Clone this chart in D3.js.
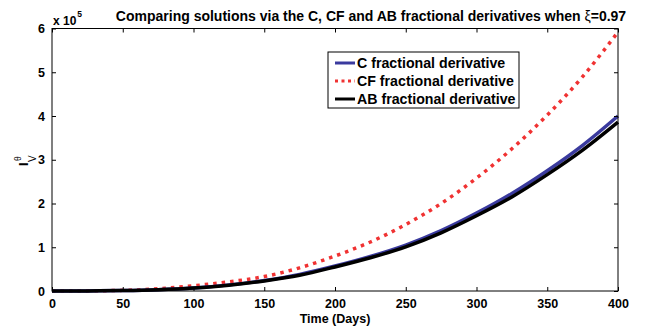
<!DOCTYPE html>
<html>
<head>
<meta charset="utf-8">
<script src="https://cdn.jsdelivr.net/npm/d3@7"></script>
<style>
  body { margin: 0; background: #fff; }
  svg { display: block; font-family: "Liberation Sans", Arial, sans-serif; font-weight: bold; }
</style>
</head>
<body>
<svg id="chart" width="646" height="331"></svg>
<script>
"use strict";

// time in days
var days = [0, 25, 50, 75, 100, 125, 150, 175, 200, 225, 250, 275, 300, 325, 350, 375, 400];
// values in units of 1e5
var caputo = [0, 0.002, 0.01, 0.03, 0.07, 0.14, 0.24, 0.38, 0.57, 0.79, 1.05, 1.38, 1.78, 2.23, 2.75, 3.33, 4.0];
var caputoFabrizio = [0, 0.003, 0.015, 0.05, 0.12, 0.21, 0.33, 0.53, 0.80, 1.12, 1.52, 2.0, 2.58, 3.25, 4.02, 4.9, 5.92];
var atanganaBaleanu = [0, 0.002, 0.009, 0.028, 0.066, 0.13, 0.23, 0.36, 0.55, 0.76, 1.01, 1.33, 1.72, 2.15, 2.66, 3.22, 3.86];

var xTicks = [0, 50, 100, 150, 200, 250, 300, 350, 400];
var yTicks = [0, 1, 2, 3, 4, 5, 6];

var seriesNames = ["C fractional derivative", "CF fractional derivative", "AB fractional derivative"];

var svg = d3.select("#chart");

var mLeft = 52, mRight = 618, mTop = 28.5, mBottom = 291;

var x = d3.scaleLinear().domain([0, 400]).range([mLeft, mRight]);
var y = d3.scaleLinear().domain([0, 6]).range([mBottom, mTop]);

var line = d3.line()
  .x(function(d) { return x(d[0]); })
  .y(function(d) { return y(d[1]); })
  .curve(d3.curveMonotoneX);

var series = [
  { name: seriesNames[1], values: caputoFabrizio, color: "#f03232", width: 3.5, dash: "3.5,5" },
  { name: seriesNames[0], values: caputo, color: "#3a3a9e", width: 3.5, dash: null },
  { name: seriesNames[2], values: atanganaBaleanu, color: "#000000", width: 3.5, dash: null }
];

var plot = svg.append("g").attr("class", "plot");

series.forEach(function(s) {
  var path = plot.append("path")
    .datum(days.map(function(d, i) { return [d, s.values[i]]; }))
    .attr("fill", "none")
    .attr("stroke", s.color)
    .attr("stroke-width", s.width)
    .attr("d", line);
  if (s.dash) path.attr("stroke-dasharray", s.dash);
});

function styleLabels(g) {
  g.select(".domain").remove();
  g.selectAll("text").attr("font-size", 12.5).attr("font-weight", "bold").attr("fill", "#000")
    .attr("font-family", "Liberation Sans, Arial, sans-serif");
}

// axes (ticks pointing inward, on all four sides)
svg.append("g")
  .attr("transform", "translate(0," + mBottom + ")")
  .call(d3.axisBottom(x).tickValues(xTicks).tickFormat(d3.format("d"))
    .tickSizeInner(-4).tickSizeOuter(0).tickPadding(8))
  .call(styleLabels);

svg.append("g")
  .attr("transform", "translate(0," + mTop + ")")
  .call(d3.axisTop(x).tickValues(xTicks).tickSizeInner(-4).tickSizeOuter(0).tickFormat(""))
  .call(function(g) { g.select(".domain").remove(); });

svg.append("g")
  .attr("transform", "translate(" + mLeft + ",0)")
  .call(d3.axisLeft(y).tickValues(yTicks).tickFormat(d3.format("d"))
    .tickSizeInner(-4).tickSizeOuter(0).tickPadding(7))
  .call(styleLabels);

svg.append("g")
  .attr("transform", "translate(" + mRight + ",0)")
  .call(d3.axisRight(y).tickValues(yTicks).tickSizeInner(-4).tickSizeOuter(0).tickFormat(""))
  .call(function(g) { g.select(".domain").remove(); });

svg.append("rect")
  .attr("x", mLeft).attr("y", mTop)
  .attr("width", mRight - mLeft).attr("height", mBottom - mTop)
  .attr("fill", "none").attr("stroke", "#000").attr("stroke-width", 1);

// exponent marker
var expo = svg.append("text").attr("x", 53).attr("y", 25).attr("font-size", 12);
expo.append("tspan").text("x 10");
expo.append("tspan").attr("dx", 1).attr("dy", -8).attr("font-size", 8.5).text("5");

// title
var title = svg.append("text")
  .attr("x", 371).attr("y", 21)
  .attr("text-anchor", "middle")
  .attr("font-size", 14);
title.append("tspan").text("Comparing solutions via the C, CF and AB fractional derivatives when ");
title.append("tspan").attr("font-weight", "normal").text("ξ");
title.append("tspan").text("=0.97");

// x label
svg.append("text")
  .attr("x", (mLeft + mRight) / 2).attr("y", 323)
  .attr("text-anchor", "middle")
  .attr("font-size", 12.5)
  .text("Time (Days)");

// y label: I with superscript theta and subscript V (rotated)
svg.append("text")
  .attr("transform", "translate(28,166) rotate(-90)")
  .attr("font-size", 13)
  .text("I");
svg.append("text")
  .attr("transform", "translate(21,161) rotate(-90)")
  .attr("font-size", 8.5)
  .attr("font-weight", "normal")
  .text("θ");
svg.append("text")
  .attr("transform", "translate(35.5,162) rotate(-90)")
  .attr("font-size", 10)
  .attr("font-weight", "normal")
  .text("V");

// legend
var legend = svg.append("g").attr("transform", "translate(328,52)");
legend.append("rect")
  .attr("width", 191).attr("height", 56)
  .attr("fill", "#fff").attr("stroke", "#000").attr("stroke-width", 1);

var legendItems = [series[1], series[0], series[2]];
legendItems.forEach(function(s, i) {
  var yy = 11 + i * 18;
  var l = legend.append("line")
    .attr("x1", 7).attr("x2", 27).attr("y1", yy).attr("y2", yy)
    .attr("stroke", s.color).attr("stroke-width", 3);
  if (s.dash) l.attr("stroke-dasharray", "3,3.5");
  legend.append("text")
    .attr("x", 29).attr("y", yy + 5)
    .attr("font-size", 14.2)
    .text(s.name);
});
</script>
</body>
</html>
